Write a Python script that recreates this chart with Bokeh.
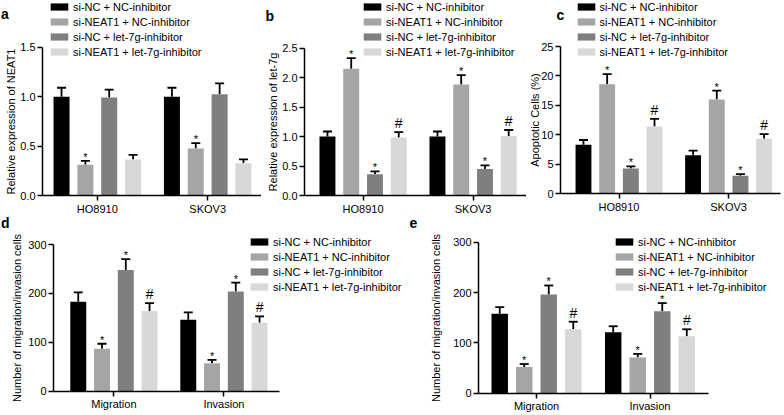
from bokeh.plotting import figure
from bokeh.models import (Range1d, FixedTicker, Whisker, TeeHead, ColumnDataSource,
                          Legend, LegendItem, Label, PrintfTickFormatter)
from bokeh.layouts import row, column
from bokeh.embed import file_html
from bokeh.resources import INLINE
from bokeh.core.properties import value

# ---------------- data ----------------
cell_lines = ["HO8910", "SKOV3"]
assays = ["Migration", "Invasion"]
groups = ["si-NC + NC-inhibitor", "si-NEAT1 + NC-inhibitor",
          "si-NC + let-7g-inhibitor", "si-NEAT1 + let-7g-inhibitor"]

# panel a: relative expression of NEAT1  (values per group: [HO8910, SKOV3])
neat1_mean = [[1.00, 1.00], [0.31, 0.475], [0.99, 1.025], [0.365, 0.325]]
neat1_err = [[0.09, 0.09], [0.04, 0.055], [0.08, 0.11], [0.045, 0.04]]
neat1_sig = [["", ""], ["*", "*"], ["", ""], ["", ""]]

# panel b: relative expression of let-7g
let7g_mean = [[1.00, 1.00], [2.15, 1.88], [0.36, 0.45], [0.985, 1.01]]
let7g_err = [[0.085, 0.085], [0.18, 0.16], [0.05, 0.06], [0.09, 0.10]]
let7g_sig = [["", ""], ["*", "*"], ["*", "*"], ["#", "#"]]

# panel c: apoptotic cells (%)
apop_mean = [[8.3, 6.5], [18.6, 16.0], [4.25, 3.0], [11.4, 9.3]]
apop_err = [[0.8, 0.8], [1.7, 1.5], [0.35, 0.3], [1.3, 0.8]]
apop_sig = [["", ""], ["*", "*"], ["*", "*"], ["#", "#"]]

# panel d: migration / invasion cells
mig_d_mean = [[183, 146], [87, 57], [248, 204], [164, 140]]
mig_d_err = [[19, 15], [10, 7], [22, 18], [16, 13]]
mig_d_sig = [["", ""], ["*", "*"], ["*", "*"], ["#", "#"]]

# panel e: migration / invasion cells
mig_e_mean = [[158, 121], [52, 71], [196, 163], [127, 113]]
mig_e_err = [[13, 12], [6, 7], [18, 16], [15, 14]]
mig_e_sig = [["", ""], ["*", "*"], ["*", "*"], ["#", "#"]]

# ---------------- style ----------------
FONT = "Liberation Sans"
COLORS = ["#000000", "#a5a5a5", "#7f7f7f", "#d8d8d8"]
OFFSETS = [-0.324, -0.108, 0.108, 0.324]
BAR_W = 0.145


def make_panel(letter, cats, means, errs, sigs, ylabel, ytop, yticks, yfmt,
               fig_x, fig_w, fig_h, axis_px, group_px, axis_end_px,
               y0_px, ytop_px, label_standoff, legend_loc, letter_px):
    # horizontal mapping: group centres (page px) -> data 1 and 2
    g1, g2 = group_px
    G = g2 - g1
    xs0 = 1 - (g1 - fig_x) / G
    xs1 = xs0 + fig_w / G
    ax_data = xs0 + (axis_px - fig_x) / G
    x_axis_end = xs0 + (axis_end_px - fig_x) / G
    # vertical mapping: value 0 at y0_px, ytop at ytop_px (figure px from top)
    ppu = (y0_px - ytop_px) / ytop
    ystart = -(fig_h - y0_px) / ppu
    yend = y0_px / ppu

    p = figure(width=fig_w, height=fig_h, output_backend="svg", toolbar_location=None,
               title=None, x_range=Range1d(xs0, xs1), y_range=Range1d(ystart, yend),
               min_border_left=0, min_border_right=0,
               min_border_top=0, min_border_bottom=0)
    p.outline_line_color = None
    p.xgrid.visible = False
    p.ygrid.visible = False

    items = []
    star_x, star_y, hash_x, hash_y = [], [], [], []
    for i, g in enumerate(groups):
        xs = [k + 1 + OFFSETS[i] for k in range(len(cats))]
        ups = [m + e for m, e in zip(means[i], errs[i])]
        src = ColumnDataSource(dict(x=xs, top=means[i], upper=ups))
        r = p.vbar(x="x", top="top", bottom=0, width=BAR_W, source=src,
                   fill_color=COLORS[i], line_color=None)
        p.add_layout(Whisker(source=src, base="x", upper="upper", lower="top",
                             dimension="height", line_color="black", line_width=1.8,
                             upper_head=TeeHead(size=9, line_width=1.8, line_color="black"),
                             lower_head=None))
        items.append(LegendItem(label=g, renderers=[r]))
        for x, u, s in zip(xs, ups, sigs[i]):
            if s == "*":
                star_x.append(x); star_y.append(u)
            elif s == "#":
                hash_x.append(x); hash_y.append(u)

    if star_x:
        p.text(x=star_x, y=star_y, text=["*"] * len(star_x), text_font=value(FONT),
               text_font_size="11px", text_align="center", text_baseline="middle",
               y_offset=-4, text_color="black")
    if hash_x:
        p.text(x=hash_x, y=hash_y, text=["#"] * len(hash_x), text_font=value(FONT),
               text_font_size="14px", text_align="center", text_baseline="middle",
               y_offset=-9, text_color="black")

    for ax in (p.xaxis[0], p.yaxis[0]):
        ax.axis_line_width = 1.5
        ax.axis_line_color = "black"
        ax.major_tick_line_width = 1.5
        ax.major_tick_line_color = "black"
        ax.major_tick_out = 5
        ax.major_tick_in = 0
        ax.minor_tick_line_color = None
        ax.major_label_text_font = FONT
        ax.major_label_text_font_size = "11px"
        ax.major_label_text_color = "black"
        ax.major_label_standoff = 2

    p.xaxis.ticker = FixedTicker(ticks=[1, 2])
    p.xaxis.major_label_overrides = {1: cats[0], 2: cats[1]}
    p.xaxis.bounds = (ax_data, x_axis_end)
    p.xaxis.fixed_location = 0
    p.yaxis.ticker = FixedTicker(ticks=yticks)
    p.yaxis.formatter = PrintfTickFormatter(format=yfmt)
    p.yaxis.bounds = (0, ytop)
    p.yaxis.fixed_location = ax_data
    p.yaxis.axis_label = ylabel
    p.yaxis.axis_label_text_font = FONT
    p.yaxis.axis_label_text_font_size = "11px"
    p.yaxis.axis_label_text_font_style = "normal"
    p.yaxis.axis_label_text_color = "black"
    p.yaxis.axis_label_standoff = label_standoff

    legend = Legend(items=items, location=legend_loc, orientation="vertical",
                    glyph_width=22, glyph_height=9, label_standoff=3, spacing=2,
                    padding=0, margin=0, border_line_color=None,
                    background_fill_alpha=0, label_text_font=FONT,
                    label_text_font_size="11px", label_height=13, label_width=20,
                    label_text_color="black")
    p.add_layout(legend)

    lx, lmid = letter_px
    p.add_layout(Label(x=xs0 + (lx - fig_x) / G, y=(y0_px - lmid) / ppu, text=letter,
                       text_font=FONT, text_font_size="14px", text_font_style="bold",
                       text_baseline="middle", text_color="black"))
    return p


TOP_H, BOT_H = 215, 200

pa = make_panel("a", cell_lines, neat1_mean, neat1_err, neat1_sig,
                "Relative expression of NEAT1", 1.5, [0, 0.5, 1.0, 1.5], "%.1f",
                0, 261, TOP_H, 42, (96.8, 207.2), 261,
                195, 46.7, 0, (48, 157), (0.5, 13.4))
pb = make_panel("b", cell_lines, let7g_mean, let7g_err, let7g_sig,
                "Relative expression of let-7g", 2.5, [0, 0.5, 1.0, 1.5, 2.0, 2.5], "%.1f",
                261, 265, TOP_H, 304, (362.6, 472.6), 526,
                195, 47.5, 0, (100, 157), (265, 15))
pc = make_panel("c", cell_lines, apop_mean, apop_err, apop_sig,
                "Apoptotic Cells (%)", 25, [0, 5, 10, 15, 20, 25], "%d",
                526, 258, TOP_H, 560, (618.5, 728.1), 780,
                193, 46, -3, (48.5, 157), (556, 14.4))
pd_ = make_panel("d", assays, mig_d_mean, mig_d_err, mig_d_sig,
                 "Number of migration/invasion cells", 300, [0, 100, 200, 300], "%d",
                 0, 408, BOT_H, 53, (113.4, 223.4), 279,
                 175.7, 29, 2, (248, 122), (0.5, 7.5))
pe = make_panel("e", assays, mig_e_mean, mig_e_err, mig_e_sig,
                "Number of migration/invasion cells", 300, [0, 100, 200, 300], "%d",
                408, 376, BOT_H, 478, (536, 649.5), 708,
                177.7, 26.7, 8, (205, 122), (409, 7.5))

layout = column(row(pa, pb, pc), row(pd_, pe))

with open("out.html", "w") as f:
    f.write(file_html(layout, INLINE))
